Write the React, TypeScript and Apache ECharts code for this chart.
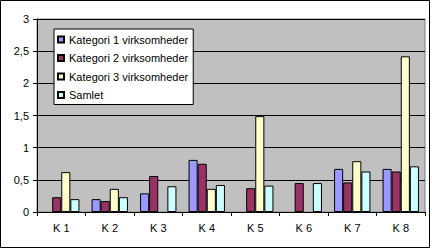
import React, { useEffect, useRef } from "react";
import * as echarts from "echarts";

const categories = ["K 1", "K 2", "K 3", "K 4", "K 5", "K 6", "K 7", "K 8"];
const seriesNames = [
  "Kategori 1 virksomheder",
  "Kategori 2 virksomheder",
  "Kategori 3 virksomheder",
  "Samlet",
];
const kategori1 = [null, 0.2, 0.29, 0.81, null, null, 0.67, 0.67];
const kategori2 = [0.23, 0.17, 0.56, 0.75, 0.37, 0.45, 0.46, 0.63];
const kategori3 = [0.62, 0.36, null, 0.36, 1.49, null, 0.79, 2.42];
const samlet = [0.2, 0.23, 0.4, 0.42, 0.41, 0.45, 0.63, 0.71];
const colors = ["#9999FF", "#993366", "#FFFFCC", "#CCFFFF"];

export default function App() {
  const ref = useRef<HTMLDivElement>(null);
  useEffect(() => {
    document.body.style.margin = "0";
    const chart = echarts.init(ref.current!, null, { renderer: "svg" });
    const font = "Liberation Sans, Arial, sans-serif";
    const data = [kategori1, kategori2, kategori3, samlet];
    chart.setOption({
      animation: false,
      backgroundColor: "#FFFFFF",
      textStyle: { fontFamily: font },
      graphic: [
        {
          type: "rect",
          shape: { x: 0.5, y: 0.5, width: 429, height: 247 },
          style: { fill: "none", stroke: "#000", lineWidth: 1 },
          z: 100,
        },
      ],
      grid: {
        left: 37,
        top: 19,
        right: 7,
        bottom: 38,
        show: true,
        backgroundColor: "#C0C0C0",
        borderColor: "#808080",
        borderWidth: 1,
      },
      legend: {
        orient: "vertical",
        left: 54,
        top: 29,
        backgroundColor: "#FFFFFF",
        borderColor: "#000",
        borderWidth: 1,
        borderRadius: 0,
        padding: [5, 5, 4, 3],
        itemWidth: 6,
        itemHeight: 6,
        itemGap: 7.5,
        textStyle: { fontSize: 11, color: "#000", fontFamily: font },
        data: seriesNames.map((n) => ({ name: n, icon: "rect" })),
      },
      xAxis: {
        type: "category",
        data: categories,
        axisLine: { lineStyle: { color: "#000", width: 1 } },
        axisTick: { show: true, length: 4, lineStyle: { color: "#000" } },
        axisLabel: { fontSize: 11, color: "#000", margin: 10, fontFamily: font },
        splitLine: { show: false },
      },
      yAxis: {
        type: "value",
        min: 0,
        max: 3,
        interval: 0.5,
        axisLine: { show: true, lineStyle: { color: "#000", width: 1 } },
        axisTick: { show: true, length: 4, lineStyle: { color: "#000" } },
        axisLabel: {
          fontSize: 11,
          color: "#000",
          margin: 8,
          fontFamily: font,
          formatter: (v: number) => String(v).replace(".", ","),
        },
        splitLine: { show: true, lineStyle: { color: "#000", width: 1 } },
      },
      series: seriesNames.map((n, i) => ({
        name: n,
        type: "bar",
        data: data[i],
        barCategoryGap: "25%",
        barGap: "0%",
        itemStyle: { color: colors[i], borderColor: "#000", borderWidth: 1 },
      })),
    });
    return () => chart.dispose();
  }, []);
  return (
    <div
      ref={ref}
      style={{ position: "absolute", left: 0, top: 0, width: 432, height: 250 }}
    />
  );
}
